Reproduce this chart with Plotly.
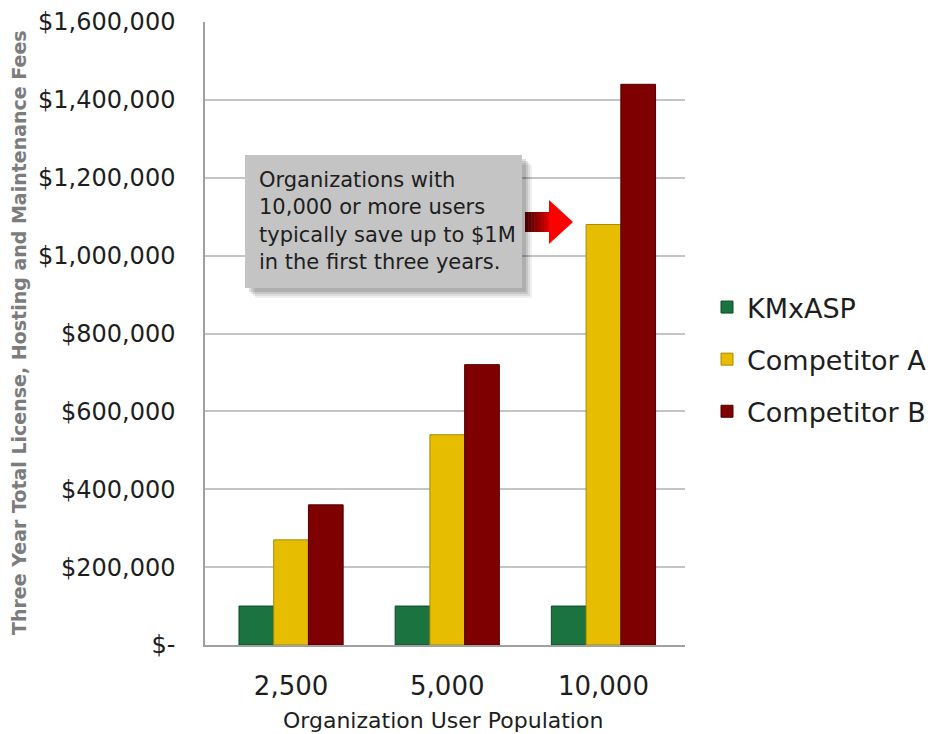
import plotly.graph_objects as go

categories = ["2,500", "5,000", "10,000"]
kmx_asp = [100000, 100000, 100000]
competitor_a = [270000, 540000, 1080000]
competitor_b = [360000, 720000, 1440000]
tick_vals = [0, 200000, 400000, 600000, 800000, 1000000, 1200000, 1400000, 1600000]
tick_text = ["$-", "$200,000", "$400,000", "$600,000", "$800,000", "$1,000,000",
             "$1,200,000", "$1,400,000", "$1,600,000"]
note_text = ("Organizations with<br>10,000 or more users<br>"
             "typically save up to $1M<br>in the first three years.")
x_title = "Organization User Population"
y_title = "Three Year Total License, Hosting and Maintenance Fees"

FONT = "DejaVu Sans, Arial, sans-serif"
TXT = "#1e1e1e"

fig = go.Figure()
series = [
    ("KMxASP", kmx_asp, "#1b7440", "#0c4a26"),
    ("Competitor A", competitor_a, "#e6bd00", "#a88a00"),
    ("Competitor B", competitor_b, "#7f0000", "#520000"),
]
for i, (name, vals, col, edge) in enumerate(series):
    fig.add_trace(go.Bar(
        x=categories, y=vals, name=name,
        marker=dict(color=col, line=dict(color=edge, width=1)),
        legendgroup=f"g{i}",
    ))

# The page body adds an 8px offset; plot area on screen: x 205..685, y 22..645
OFF = 8
FW, FH = 935 - OFF, 734 - OFF
L, T = 205 - OFF, 22 - OFF
PW, PH = 480, 623
R, B = FW - L - PW, FH - T - PH


def px(sx):
    return (sx - 205) / PW


def py(sy):
    return (645 - sy) / PH


shapes = []
# soft shadow of the note box
for d, a in [(10, 0.06), (8, 0.08), (6, 0.10), (4, 0.12)]:
    shapes.append(dict(type="rect", xref="paper", yref="paper",
                       x0=px(245 + d), x1=px(522 + d), y0=py(288 + d), y1=py(155 + d),
                       fillcolor=f"rgba(0,0,0,{a})", line=dict(width=0), layer="above"))
shapes.append(dict(type="rect", xref="paper", yref="paper",
                   x0=px(245), x1=px(522), y0=py(288), y1=py(155),
                   fillcolor="#c4c4c4", line=dict(width=0), layer="above"))
# arrow shaft with dark-to-red gradient
shaft_cols = ["#4a0000", "#5c0000", "#700000", "#850000", "#9a0000", "#b00000", "#c60000", "#dc0000"]
x0s, x1s = 525, 550
step = (x1s - x0s) / len(shaft_cols)
for k, c in enumerate(shaft_cols):
    a0 = x0s + k * step
    a1 = a0 + step + 0.5
    shapes.append(dict(type="rect", xref="paper", yref="paper",
                       x0=px(a0), x1=px(a1), y0=py(232), y1=py(212),
                       fillcolor=c, line=dict(width=0), layer="above"))
# arrow head
shapes.append(dict(type="path", xref="paper", yref="paper",
                   path=(f"M {px(549)},{py(200)} L {px(573)},{py(222)} L {px(549)},{py(244)} Z"),
                   fillcolor="#ff0000", line=dict(width=0), layer="above"))

annotations = [
    dict(text=note_text, xref="paper", yref="paper",
         x=px(257), y=py(166), xanchor="left", yanchor="top",
         align="left", showarrow=False,
         font=dict(family=FONT, size=21, color=TXT)),
    dict(text=x_title, xref="paper", yref="paper",
         x=px(443), y=py(720), xanchor="center", yanchor="middle",
         showarrow=False, font=dict(family=FONT, size=22, color=TXT)),
    dict(text=y_title, xref="paper", yref="paper",
         x=px(19), y=py(333), xanchor="center", yanchor="middle", textangle=-90,
         showarrow=False, font=dict(family="DejaVu Sans", size=19, color="#7c7c7c",
                                    weight="bold")),
]

fig.update_layout(
    width=FW, height=FH,
    margin=dict(l=L, r=R, t=T, b=B, autoexpand=False),
    paper_bgcolor="white", plot_bgcolor="white",
    font=dict(family=FONT, color=TXT),
    barmode="group", bargap=0.333, bargroupgap=0.0,
    shapes=shapes,
    annotations=annotations,
    legend=dict(
        x=px(707), y=py(283), xanchor="left", yanchor="top",
        font=dict(family=FONT, size=27, color=TXT),
        traceorder="grouped", tracegroupgap=14,
        bgcolor="rgba(0,0,0,0)",
    ),
    xaxis=dict(
        range=[-0.551, 2.522],
        showline=True, linecolor="#a0a0a0", linewidth=1.5,
        tickfont=dict(family=FONT, size=26, color=TXT),
        ticks="", ticklabelstandoff=17,
    ),
    yaxis=dict(
        range=[0, 1600000], tickvals=tick_vals, ticktext=tick_text,
        showgrid=True, gridcolor="#c4c4c4", gridwidth=2,
        showline=True, linecolor="#a0a0a0", linewidth=1.5,
        tickfont=dict(family=FONT, size=24, color=TXT),
        ticks="", ticklabelstandoff=23, zeroline=False,
    ),
)

fig.write_html("out.html")
